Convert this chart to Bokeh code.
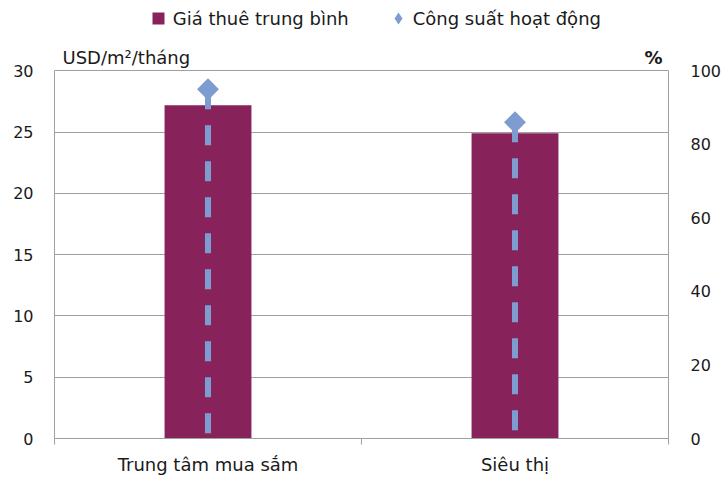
import math
from bokeh.plotting import figure
from bokeh.models import (Range1d, LinearAxis, FixedTicker, Legend, LegendItem, Label,
                          ColumnDataSource, Grid)
from bokeh.embed import file_html
from bokeh.resources import INLINE

categories = ["Trung tâm mua sắm", "Siêu thị"]
rent = [27.2, 24.9]          # USD/m²/tháng
occupancy = [95.0, 86.0]     # %
left_ticks = [0, 5, 10, 15, 20, 25, 30]
right_ticks = [0, 20, 40, 60, 80, 100]
series_names = ["Giá thuê trung bình", "Công suất hoạt động"]
left_unit = "USD/m²/tháng"
right_unit = "%"

FONT = "DejaVu Sans"
FS = "18px"
TICK_FS = "16px"
TXT = "#1a1a1a"
GRID = "#a0a0a0"
BAR = "#87225b"
DIA = "#7f9cd0"

W, H = 725, 477
LEFT, RIGHT, BOTTOM = 54, 57, 38
FRAME_H = H - BOTTOM          # frame runs up to the top of the canvas
AXIS_PX = 368.5               # pixels covered by the 0..max value axes
ext = FRAME_H / AXIS_PX       # headroom above the axes for legend / unit labels

x_pos = [i + 0.5 for i in range(len(categories))]
src = ColumnDataSource(dict(x=x_pos, rent=rent, occ=occupancy,
                            zero=[0] * len(categories), cat=categories))

p = figure(width=W, height=H, output_backend="svg", toolbar_location=None,
           x_range=Range1d(0, len(categories)), y_range=Range1d(0, left_ticks[-1] * ext),
           x_axis_location=None, y_axis_location=None,
           min_border_left=LEFT, min_border_right=RIGHT, min_border_top=0,
           min_border_bottom=BOTTOM)
p.extra_y_ranges = {"pct": Range1d(0, right_ticks[-1] * ext),
                    "swatch": Range1d(-2, -1)}
p.outline_line_color = None
p.center = [r for r in p.center if not isinstance(r, Grid)]

def style_axis(ax, fs):
    ax.major_label_text_font = FONT
    ax.major_label_text_font_size = fs
    ax.major_label_text_color = TXT

la = LinearAxis(ticker=FixedTicker(ticks=left_ticks), bounds=(0, left_ticks[-1]),
                axis_line_color=GRID, major_tick_line_color=None, minor_tick_line_color=None,
                major_tick_out=0, major_tick_in=0, major_label_standoff=21)
style_axis(la, TICK_FS)
p.add_layout(la, "left")

ra = LinearAxis(y_range_name="pct", ticker=FixedTicker(ticks=right_ticks),
                bounds=(0, right_ticks[-1]), axis_line_color=GRID,
                major_tick_line_color=None, minor_tick_line_color=None,
                major_tick_out=0, major_tick_in=0, major_label_standoff=22)
style_axis(ra, TICK_FS)
p.add_layout(ra, "right")

xb = LinearAxis(ticker=FixedTicker(ticks=x_pos, minor_ticks=list(range(len(categories) + 1))),
                major_label_overrides={xv: c for xv, c in zip(x_pos, categories)},
                axis_line_color=GRID, major_tick_line_color=None, major_tick_out=0,
                major_tick_in=0, minor_tick_line_color=GRID, minor_tick_out=6,
                minor_tick_in=0, major_label_standoff=9)
style_axis(xb, FS)
p.add_layout(xb, "below")

p.add_layout(Grid(dimension=1, ticker=FixedTicker(ticks=left_ticks), grid_line_color=GRID))

p.vbar(x="x", top="rent", bottom=0, width=0.283, source=src, fill_color=BAR, line_color=None)
p.segment(x0="x", y0="occ", x1="x", y1="zero", source=src, y_range_name="pct",
          line_color=DIA, line_width=6, line_dash="20 16", line_cap="butt")
p.scatter(x="x", y="occ", source=src, y_range_name="pct", marker="square",
          angle=math.pi / 4, size=15.5, fill_color=DIA, line_color=None)

# legend swatches: same data on an off-screen range, so only the legend shows them
r1 = p.scatter(x="x", y="rent", source=src, y_range_name="swatch", marker="square", size=12,
               fill_color=BAR, line_color=None)
r2 = p.scatter(x="x", y="occ", source=src, y_range_name="swatch", marker="diamond", size=12,
               fill_color=DIA, line_color=None)
legend = Legend(items=[LegendItem(label=series_names[0], renderers=[r1]),
                       LegendItem(label=series_names[1], renderers=[r2])],
                orientation="horizontal", location=(88.7, FRAME_H - 34),
                glyph_width=30, glyph_height=30, label_standoff=0, spacing=34,
                padding=0, margin=0, border_line_color=None, background_fill_alpha=0,
                label_text_font=FONT, label_text_font_size=FS, label_text_color=TXT)
p.add_layout(legend)

p.add_layout(Label(x=8, y=FRAME_H - 58, x_units="screen", y_units="screen", text=left_unit,
                   text_font=FONT, text_font_size=FS, text_color=TXT,
                   text_baseline="middle", text_align="left"))
p.add_layout(Label(x=608, y=FRAME_H - 58, x_units="screen", y_units="screen", text=right_unit,
                   text_font=FONT, text_font_size=FS, text_color=TXT, text_font_style="bold",
                   text_baseline="middle", text_align="right"))

open("out.html", "w").write(file_html(p, INLINE))
